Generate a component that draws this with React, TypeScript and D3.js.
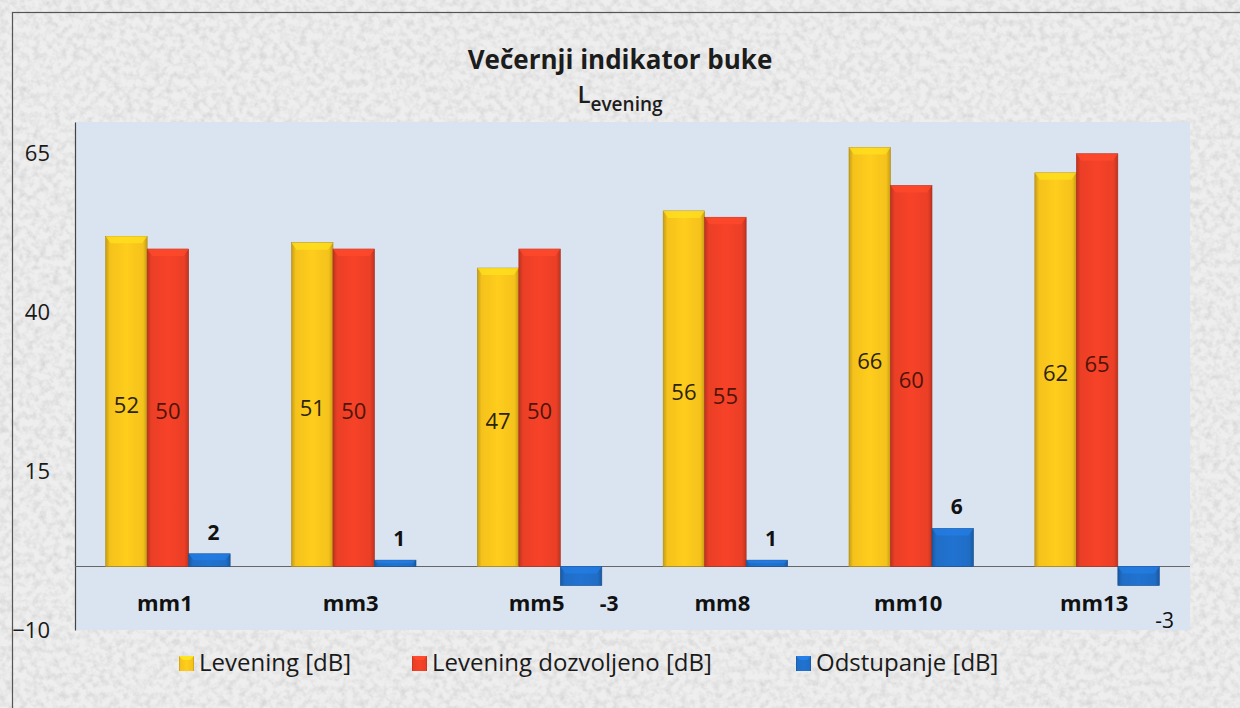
import React, { useEffect, useRef } from 'react';
import * as d3 from 'd3';

const WIDTH = 1240;
const HEIGHT = 708;

const PLOT = { left: 75, right: 1190, top: 122, bottom: 630 };

const categories = ['mm1', 'mm3', 'mm5', 'mm8', 'mm10', 'mm13'];
const series = ['Levening [dB]', 'Levening dozvoljeno [dB]', 'Odstupanje [dB]'];
const levening = [52, 51, 47, 56, 66, 62];
const dozvoljeno = [50, 50, 50, 55, 60, 65];
const odstupanje = [2, 1, -3, 1, 6, -3];
const yTicks = [-10, 15, 40, 65];

const colors = ['#f4c21b', '#ea3f26', '#1f6dc6'];
const labelColors = ['#2a2410', '#4e1508', '#111111'];

const FONT = '"Open Sans", "Noto Sans", sans-serif';

export default function App() {
  const ref = useRef<SVGSVGElement>(null);

  useEffect(() => {
    const svg = d3.select(ref.current);
    svg.selectAll('*').remove();

    const defs = svg.append('defs');

    // paper texture
    const paper = defs.append('filter').attr('id', 'paper')
      .attr('x', 0).attr('y', 0).attr('width', '100%').attr('height', '100%');
    paper.append('feTurbulence')
      .attr('type', 'fractalNoise')
      .attr('baseFrequency', 0.15)
      .attr('numOctaves', 3)
      .attr('seed', 7);
    paper.append('feColorMatrix')
      .attr('type', 'matrix')
      .attr('values', '0 0 0 0 0.55  0 0 0 0 0.55  0 0 0 0 0.55  1.8 0 0 0 -0.7');

    colors.forEach((c, i) => {
      const g = defs.append('linearGradient').attr('id', `bar${i}`)
        .attr('x1', 0).attr('x2', 1).attr('y1', 0).attr('y2', 0);
      const dark = d3.color(c)!.darker(0.6).formatHex();
      const light = d3.color(c)!.brighter(0.15).formatHex();
      g.append('stop').attr('offset', '0%').attr('stop-color', dark);
      g.append('stop').attr('offset', '10%').attr('stop-color', c);
      g.append('stop').attr('offset', '50%').attr('stop-color', light);
      g.append('stop').attr('offset', '90%').attr('stop-color', c);
      g.append('stop').attr('offset', '100%').attr('stop-color', dark);
    });

    // background
    svg.append('rect').attr('width', WIDTH).attr('height', HEIGHT).attr('fill', '#eeeeee');
    svg.append('rect').attr('width', WIDTH).attr('height', HEIGHT)
      .attr('filter', 'url(#paper)').attr('opacity', 0.6);
    svg.append('rect')
      .attr('x', 12.5).attr('y', 12.5)
      .attr('width', WIDTH - 8).attr('height', HEIGHT)
      .attr('fill', 'none').attr('stroke', '#555').attr('stroke-width', 1.2);

    // plot area
    svg.append('rect')
      .attr('x', PLOT.left).attr('y', PLOT.top)
      .attr('width', PLOT.right - PLOT.left).attr('height', PLOT.bottom - PLOT.top)
      .attr('fill', '#dae4f1');

    const x = d3.scaleBand<string>()
      .domain(categories)
      .range([PLOT.left, PLOT.right])
      .paddingInner(0.33)
      .paddingOuter(0.165);

    const x1 = d3.scaleBand<string>()
      .domain(series)
      .range([0, x.bandwidth()]);

    const y = d3.scaleLinear()
      .domain([-10, 70])
      .range([PLOT.bottom, PLOT.top]);

    // y axis
    svg.append('g')
      .attr('transform', `translate(${PLOT.left}, 0)`)
      .call(d3.axisLeft(y).tickValues(yTicks).tickSize(0).tickPadding(25))
      .call(g => g.select('.domain').attr('stroke', '#444').attr('stroke-width', 1.2))
      .call(g => g.selectAll('text')
        .attr('font-family', FONT).attr('font-size', 22).attr('fill', '#1a1a1a'));

    // zero line
    svg.append('line')
      .attr('x1', PLOT.left).attr('x2', PLOT.right)
      .attr('y1', y(0)).attr('y2', y(0))
      .attr('stroke', '#666').attr('stroke-width', 1.2);

    const table = categories.map((c, i) => ({
      category: c,
      values: [levening[i], dozvoljeno[i], odstupanje[i]],
    }));

    const bars = svg.append('g');
    table.forEach(row => {
      const gx = x(row.category)!;
      row.values.forEach((v, si) => {
        const bx = gx + x1(series[si])!;
        const bw = x1.bandwidth();
        const top = Math.min(y(v), y(0));
        const h = Math.abs(y(v) - y(0));
        bars.append('rect')
          .attr('x', bx).attr('y', top).attr('width', bw).attr('height', h)
          .attr('fill', `url(#bar${si})`)
          .attr('stroke', d3.color(colors[si])!.darker(0.9).formatHex())
          .attr('stroke-width', 0.6);
        const cap = Math.min(7, h / 2);
        const inset = Math.min(5, cap);
        bars.append('path')
          .attr('d', `M${bx},${top}L${bx + bw},${top}L${bx + bw - inset},${top + cap}L${bx + inset},${top + cap}Z`)
          .attr('fill', d3.color(colors[si])!.brighter(0.4).formatHex())
          .attr('opacity', 0.75);
      });
    });

    // value labels
    const labels = svg.append('g').attr('font-family', FONT);
    table.forEach((row, ci) => {
      const gx = x(row.category)!;
      row.values.forEach((v, si) => {
        const cx = gx + x1(series[si])! + x1.bandwidth() / 2;
        if (si < 2) {
          labels.append('text')
            .attr('x', cx).attr('y', (y(v) + y(0)) / 2 + 4)
            .attr('dy', '0.35em')
            .attr('text-anchor', 'middle')
            .attr('font-size', 22)
            .attr('fill', labelColors[si])
            .text(v);
        } else if (v >= 0) {
          labels.append('text')
            .attr('x', cx + 4).attr('y', y(v) - 14)
            .attr('text-anchor', 'middle')
            .attr('font-size', 21).attr('font-weight', 'bold')
            .attr('fill', labelColors[si])
            .text(v);
        } else {
          const last = ci === categories.length - 1;
          labels.append('text')
            .attr('x', cx + (last ? 26 : 28))
            .attr('y', y(v) + (last ? 42 : 25))
            .attr('text-anchor', 'middle')
            .attr('font-size', 21)
            .attr('font-weight', last ? 'normal' : 'bold')
            .attr('fill', labelColors[si])
            .text(v);
        }
      });
    });

    // category labels
    svg.append('g')
      .selectAll('text')
      .data(categories)
      .join('text')
      .attr('x', d => x(d)! + x.bandwidth() / 2 - 3)
      .attr('y', 611)
      .attr('text-anchor', 'middle')
      .attr('font-family', FONT)
      .attr('font-size', 22)
      .attr('font-weight', 'bold')
      .attr('fill', '#111')
      .text(d => d);

    // title
    svg.append('text')
      .attr('x', 620).attr('y', 69)
      .attr('text-anchor', 'middle')
      .attr('font-family', FONT)
      .attr('font-size', 26)
      .attr('font-weight', 'bold')
      .attr('fill', '#1c1c1c')
      .text('Večernji indikator buke');

    const sub = svg.append('text')
      .attr('x', 620).attr('y', 103)
      .attr('text-anchor', 'middle')
      .attr('font-family', FONT)
      .attr('fill', '#1c1c1c');
    sub.append('tspan').attr('font-size', 24).attr('font-weight', 600).text('L');
    sub.append('tspan').attr('font-size', 19).attr('font-weight', 600).attr('dy', 8).text('evening');

    // legend
    const legendX = [179, 412, 796];
    const legend = svg.append('g');
    series.forEach((s, i) => {
      const g = legend.append('g').attr('transform', `translate(${legendX[i]}, 656)`);
      g.append('rect').attr('width', 15).attr('height', 15)
        .attr('fill', `url(#bar${i})`);
      g.append('path').attr('d', 'M0,0L15,0L11,4L4,4Z')
        .attr('fill', d3.color(colors[i])!.brighter(0.45).formatHex());
      g.append('text')
        .attr('x', 20).attr('y', 15)
        .attr('font-family', FONT)
        .attr('font-size', 24)
        .attr('fill', '#1a1a1a')
        .text(s);
    });
  }, []);

  return (
    <svg
      ref={ref}
      width={WIDTH}
      height={HEIGHT}
      viewBox={`0 0 ${WIDTH} ${HEIGHT}`}
      style={{ position: 'absolute', left: 0, top: 0, display: 'block' }}
    />
  );
}
